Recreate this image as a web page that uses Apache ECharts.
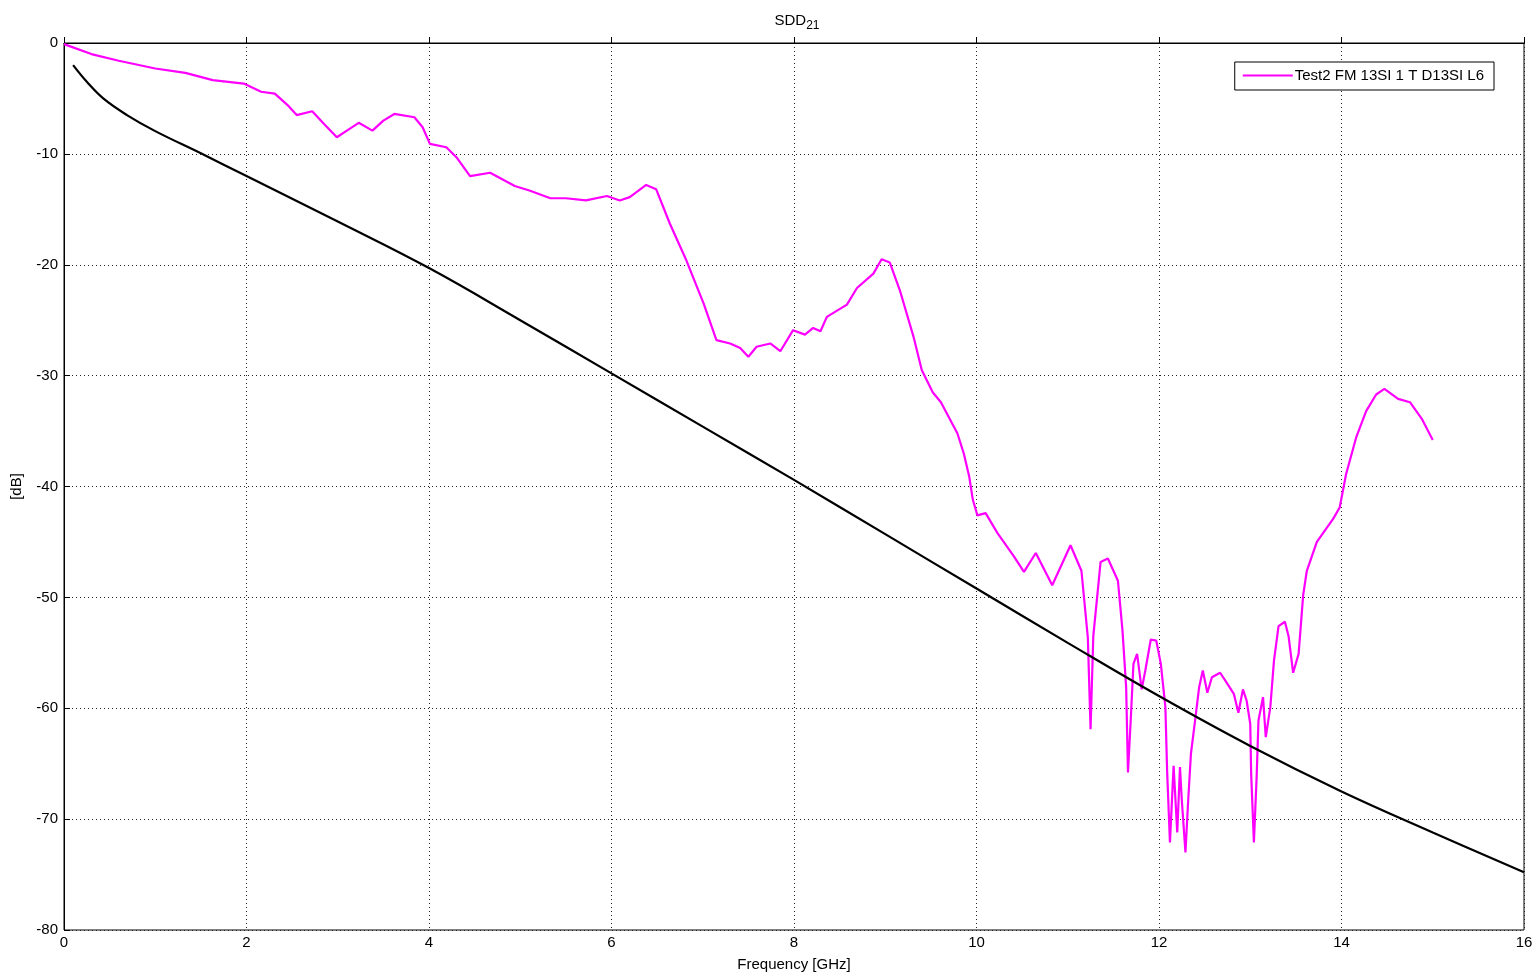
<!DOCTYPE html>
<html>
<head>
    <meta charset="utf-8">
    <script src="https://cdn.jsdelivr.net/npm/echarts@6/dist/echarts.min.js"></script>
</head>
<body style="margin:0;background:#fff">
<div id="main" style="width:1540px;height:978px;"></div>
<script type="text/javascript">
    // measured curve (magenta)
    var measFreq = [0.0, 0.3, 0.6, 1.0, 1.33, 1.63, 1.97, 2.16, 2.31, 2.45, 2.55, 2.72, 2.85, 2.99, 3.1, 3.23, 3.38, 3.5, 3.62, 3.84,
        3.93, 4.01, 4.19, 4.3, 4.45, 4.67, 4.94, 5.1, 5.33, 5.5, 5.72, 5.95, 6.09, 6.2, 6.38, 6.49, 6.64, 6.82, 7.01, 7.15,
        7.3, 7.41, 7.5, 7.59, 7.74, 7.85, 7.99, 8.12, 8.21, 8.29, 8.36, 8.58, 8.69, 8.87, 8.96, 9.05, 9.16, 9.31, 9.4, 9.52,
        9.61, 9.79, 9.86, 9.92, 9.96, 10.01, 10.1, 10.23, 10.41, 10.52, 10.65, 10.83, 11.03, 11.15, 11.22, 11.25, 11.28, 11.36, 11.44, 11.55,
        11.6, 11.64, 11.66, 11.69, 11.72, 11.76, 11.81, 11.85, 11.91, 11.97, 12.02, 12.07, 12.09, 12.12, 12.16, 12.2, 12.23, 12.25, 12.29, 12.32,
        12.35, 12.4, 12.44, 12.48, 12.53, 12.58, 12.67, 12.75, 12.82, 12.87, 12.92, 12.96, 13.0, 13.01, 13.04, 13.07, 13.09, 13.14, 13.17, 13.22,
        13.26, 13.31, 13.38, 13.42, 13.47, 13.53, 13.58, 13.62, 13.73, 13.91, 13.98, 14.05, 14.16, 14.27, 14.38, 14.47, 14.62, 14.75, 14.88, 15.0];
    var measDb = [-0.1, -1.0, -1.6, -2.3, -2.7, -3.35, -3.66, -4.4, -4.57, -5.6, -6.5, -6.16, -7.3, -8.5, -7.9, -7.2, -7.9, -7.0, -6.4, -6.7,
        -7.6, -9.1, -9.4, -10.3, -12.0, -11.7, -12.9, -13.3, -14.0, -14.0, -14.2, -13.8, -14.2, -13.9, -12.8, -13.2, -16.3, -19.6, -23.5, -26.8,
        -27.1, -27.5, -28.3, -27.4, -27.1, -27.8, -25.9, -26.3, -25.7, -26.0, -24.7, -23.6, -22.1, -20.8, -19.5, -19.8, -22.3, -26.5, -29.5, -31.5,
        -32.4, -35.2, -37.0, -39.1, -41.2, -42.6, -42.4, -44.2, -46.3, -47.7, -46.0, -48.9, -45.3, -47.6, -53.6, -61.9, -53.5, -46.8, -46.5, -48.5,
        -53.0, -58.1, -65.8, -61.1, -56.0, -55.1, -58.3, -56.6, -53.8, -53.9, -56.0, -59.9, -65.9, -72.1, -65.2, -71.2, -65.3, -68.3, -73.0, -68.3,
        -64.1, -60.8, -58.1, -56.6, -58.6, -57.2, -56.8, -57.8, -58.7, -60.4, -58.3, -59.3, -61.4, -65.9, -72.1, -66.2, -61.1, -59.0, -62.6, -59.9,
        -55.7, -52.6, -52.2, -53.5, -56.8, -55.1, -49.8, -47.6, -45.0, -42.9, -41.9, -38.9, -35.6, -33.2, -31.7, -31.2, -32.1, -32.4, -33.9, -35.8];

    // reference / limit curve (black)
    var refFreq = [0.1, 0.25, 0.43, 0.69, 1.0, 1.5, 2, 3, 4, 5, 6, 7, 8, 9, 10, 11, 12, 13, 14, 15, 16];
    var refDb = [-2.0, -3.5, -5.0, -6.5, -7.95, -9.95, -12.0, -16.1, -20.3, -25.0, -29.8, -34.6, -39.4, -44.3, -49.2, -54.1, -58.9, -63.4, -67.5, -71.2, -74.8];

    var xTicks = [0, 2, 4, 6, 8, 10, 12, 14, 16];
    var yTicks = [-80, -70, -60, -50, -40, -30, -20, -10, 0];

    function zip(xs, ys) {
        return xs.map(function (x, i) { return [x, ys[i]]; });
    }

    var font = '"Liberation Sans", Arial, sans-serif';
    var gridLine = { show: true, lineStyle: { color: '#222', type: [1, 3], width: 1 } };

    var myChart = echarts.init(document.getElementById('main'));
    var option = {
        animation: false,
        backgroundColor: '#fff',
        title: {
            text: 'SDD{sub|21}',
            left: 792, top: 5, textAlign: 'center',
            textStyle: {
                fontFamily: font, fontSize: 15, fontWeight: 'normal', color: '#000',
                rich: { sub: { fontFamily: font, fontSize: 12, color: '#000', verticalAlign: 'bottom', padding: [10, 0, 0, 0] } }
            }
        },
        legend: {
            data: ['Test2 FM 13SI 1 T D13SI L6'],
            right: 46, top: 62,
            orient: 'vertical',
            backgroundColor: '#fff',
            borderColor: '#000', borderWidth: 1, borderRadius: 0,
            padding: [6, 10, 7, 8],
            itemWidth: 50, itemHeight: 14, itemGap: 0,
            icon: 'path://M0,6 L50,6 L50,8 L0,8 Z',
            textStyle: { fontFamily: font, fontSize: 15, color: '#000', padding: [0, 0, 0, -3] }
        },
        grid: {
            left: 64, right: 16, top: 43, bottom: 48,
            show: true, borderColor: '#000', borderWidth: 1
        },
        xAxis: {
            type: 'value', min: 0, max: 16, interval: 2,
            name: 'Frequency [GHz]', nameLocation: 'middle', nameGap: 27,
            nameTextStyle: { fontFamily: font, fontSize: 15, color: '#000' },
            axisLine: { show: true, lineStyle: { color: '#000' } },
            axisTick: { show: true, inside: true, length: 6, lineStyle: { color: '#000' } },
            axisLabel: { fontFamily: font, fontSize: 15, color: '#000', margin: 5 },
            splitLine: gridLine
        },
        yAxis: {
            type: 'value', min: -80, max: 0, interval: 10,
            name: '[dB]', nameLocation: 'middle', nameGap: 40,
            nameTextStyle: { fontFamily: font, fontSize: 15, color: '#000' },
            axisLine: { show: true, lineStyle: { color: '#000' } },
            axisTick: { show: true, inside: true, length: 6, lineStyle: { color: '#000' } },
            axisLabel: { fontFamily: font, fontSize: 15, color: '#000', margin: 6 },
            splitLine: gridLine
        },
        series: [{
            name: 'Test2 FM 13SI 1 T D13SI L6',
            type: 'line',
            data: zip(measFreq, measDb),
            showSymbol: false,
            color: '#f0f',
            lineStyle: { color: '#f0f', width: 2.2 }
        }, {
            name: 'limit',
            type: 'line',
            data: zip(refFreq, refDb),
            showSymbol: false,
            smooth: 0.4,
            color: '#000',
            lineStyle: { color: '#000', width: 2.2 }
        }]
    };
    myChart.setOption(option);
</script>
</body>
</html>
